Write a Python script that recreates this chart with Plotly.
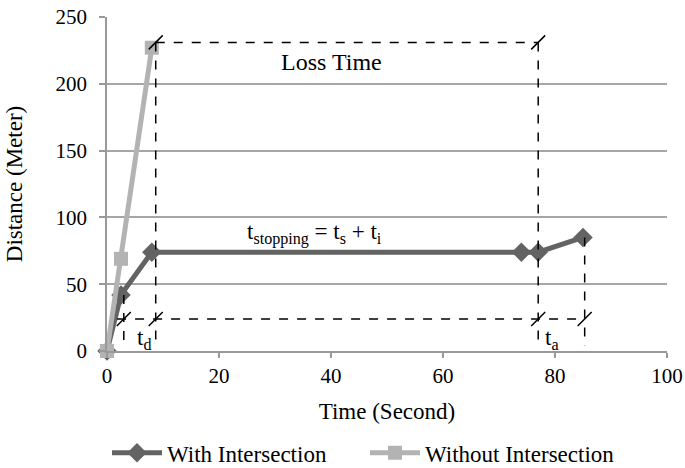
import plotly.graph_objects as go

# Data
with_x = [0, 2.5, 8, 74, 77, 85]
with_y = [0, 42, 74, 74, 74, 85]
without_x = [0, 2.5, 8]
without_y = [0, 69, 227]

x_ticks = [0, 20, 40, 60, 80, 100]
y_ticks = [0, 50, 100, 150, 200, 250]

# Annotation guide values
t_ref = 3.0      # end of reaction
t_stop = 8.7     # stop start
t_go = 77.0      # go again
t_end = 85.3     # end of acceleration
y_top = 231
y_base = 24

DARK = "#636363"
LIGHT = "#b3b3b3"
FONT = "Liberation Serif"

fig = go.Figure()
fig.add_trace(go.Scatter(x=with_x, y=with_y, mode="lines+markers", name="With Intersection",
                         line=dict(color=DARK, width=5),
                         marker=dict(symbol="diamond", size=15, color=DARK), cliponaxis=False))
fig.add_trace(go.Scatter(x=without_x, y=without_y, mode="lines+markers", name="Without Intersection",
                         line=dict(color=LIGHT, width=5),
                         marker=dict(symbol="square", size=14, color=LIGHT), cliponaxis=False))

dash = dict(color="black", width=1.5, dash="dash")
shapes = []
shapes.append(dict(type="line", x0=t_stop, x1=t_go, y0=y_top, y1=y_top, line=dash))
shapes.append(dict(type="line", x0=1.8, x1=t_end, y0=y_base, y1=y_base, line=dash))
shapes.append(dict(type="line", x0=t_stop, x1=t_stop, y0=y_top, y1=4, line=dash))
shapes.append(dict(type="line", x0=t_go, x1=t_go, y0=y_top, y1=4, line=dash))
shapes.append(dict(type="line", x0=t_ref, x1=t_ref, y0=with_y[1], y1=4, line=dash))
shapes.append(dict(type="line", x0=t_end, x1=t_end, y0=with_y[-1], y1=4, line=dash))
for (sx, sy) in [(t_ref, y_base), (t_stop, y_base), (t_go, y_base), (t_end, y_base),
                 (t_stop, y_top), (t_go, y_top)]:
    shapes.append(dict(type="line", xref="x", yref="y", xsizemode="pixel", ysizemode="pixel",
                       xanchor=sx, yanchor=sy, x0=-7, x1=7, y0=-7, y1=7,
                       line=dict(color="black", width=1.5)))

tf = dict(family=FONT, size=23, color="black")
annotations = [
    dict(x=40, y=216, text="Loss Time", showarrow=False, font=dict(family=FONT, size=24, color="black")),
    dict(x=37, y=88, text="t<sub>stopping</sub> = t<sub>s</sub> + t<sub>i</sub>", showarrow=False, font=tf),
    dict(x=6.6, y=9, text="t<sub>d</sub>", showarrow=False, font=tf),
    dict(x=79.4, y=9, text="t<sub>a</sub>", showarrow=False, font=tf),
]

tickfont = dict(family=FONT, size=21, color="black")

fig.update_layout(
    width=685, height=468,
    margin=dict(l=107, r=18, t=17, b=117, autoexpand=False),
    paper_bgcolor="white", plot_bgcolor="white",
    font=dict(family=FONT, size=21, color="black"),
    shapes=shapes, annotations=annotations,
    legend=dict(orientation="h", x=0.0, xanchor="left", y=-0.305, yanchor="middle",
                font=dict(family=FONT, size=23), itemwidth=50, entrywidth=193, tracegroupgap=0),
    showlegend=True,
)
fig.update_xaxes(range=[0, 100], tickvals=x_ticks, showgrid=False, zeroline=False,
                 showline=True, linecolor="#999999", linewidth=1.5, automargin=False,
                 ticks="outside", ticklen=5, tickcolor="#999999", tickwidth=1.5, tickfont=tickfont,
                 title=dict(text="Time (Second)", font=dict(family=FONT, size=23), standoff=16))
fig.update_yaxes(range=[0, 250], tickvals=y_ticks, showgrid=True, gridcolor="#a6a6a6", gridwidth=1.5,
                 zeroline=False, showline=True, linecolor="#999999", linewidth=1.5, automargin=False,
                 ticks="outside", ticklen=6, tickcolor="#999999", tickwidth=1.5, ticklabelstandoff=8,
                 tickfont=tickfont,
                 title=dict(text="Distance (Meter)", font=dict(family=FONT, size=23), standoff=26))

fig.write_html("out.html", config={"displayModeBar": False},
               post_script="document.body.style.margin='0';document.body.style.padding='0';")
